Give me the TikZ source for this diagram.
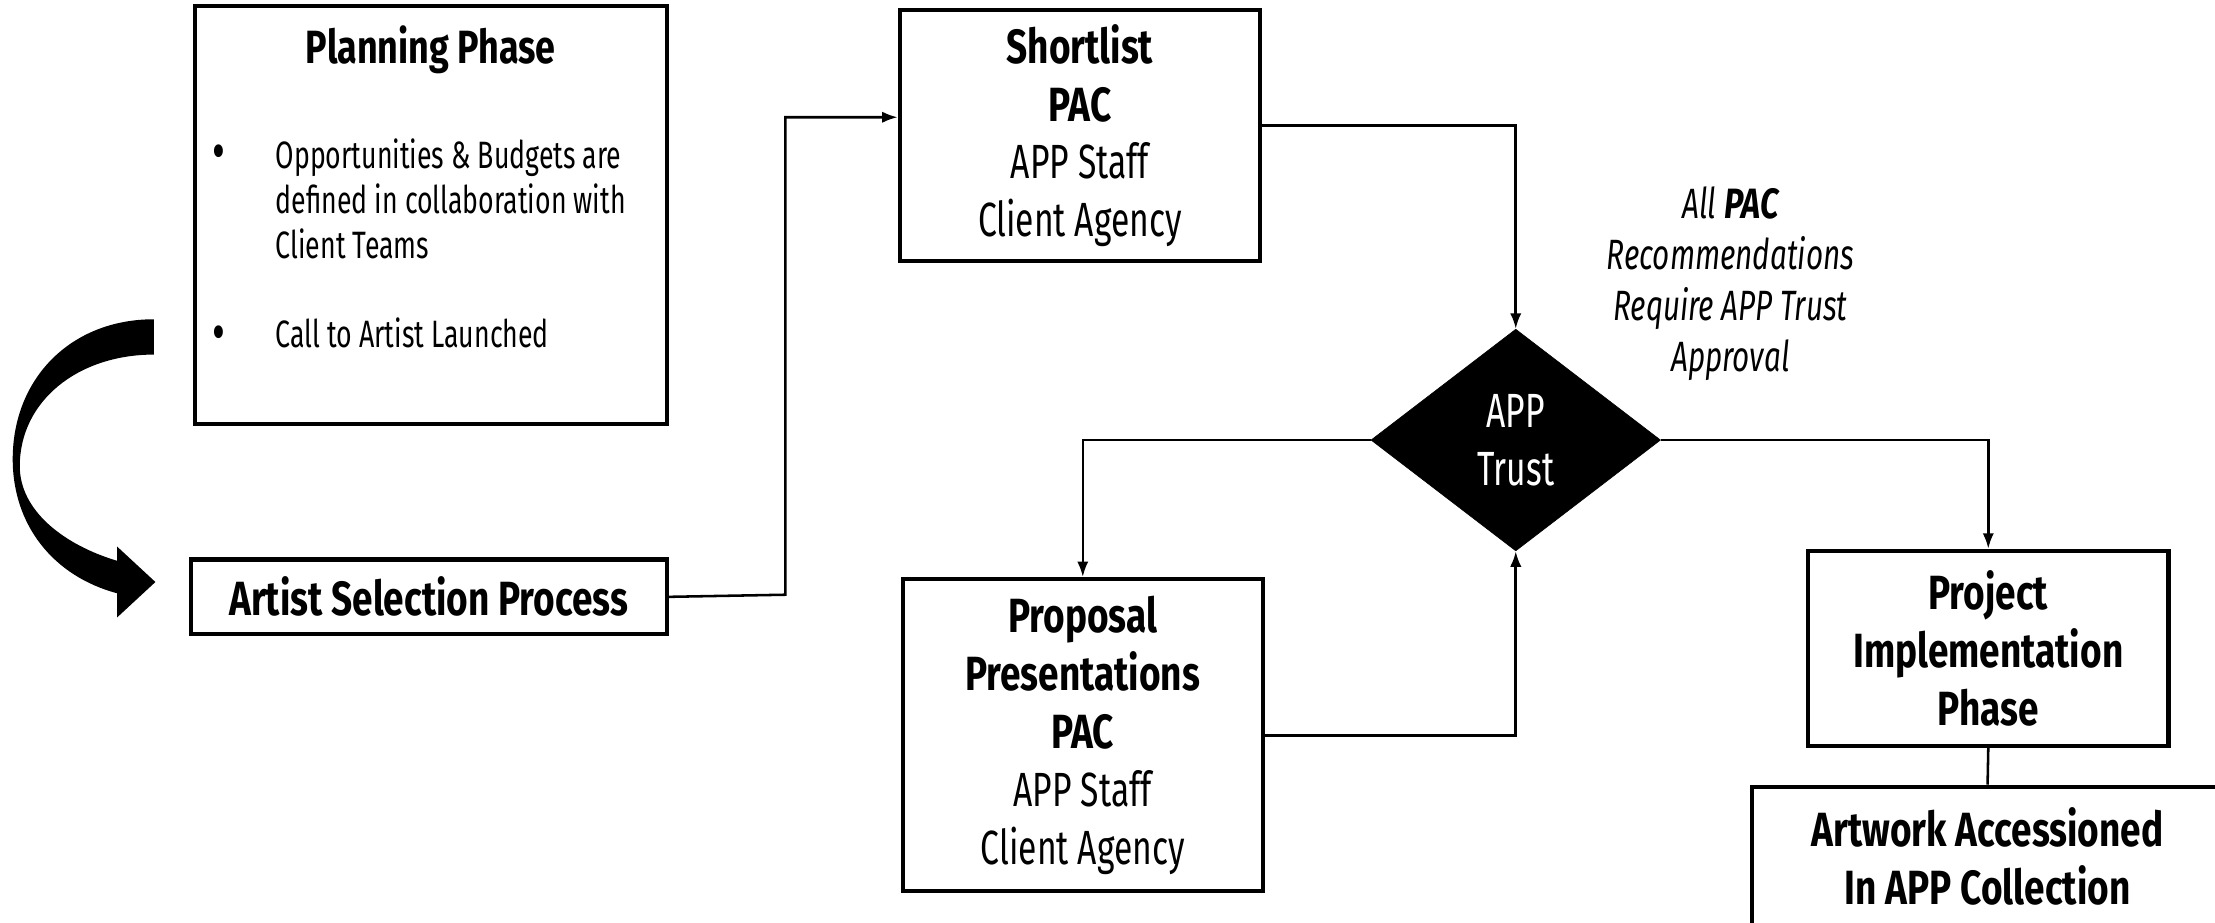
\documentclass[tikz,border=0pt]{standalone}
\usepackage{fontspec}
\setmainfont{Fira Sans}[FakeStretch=0.7, BoldFeatures={FakeStretch=0.77}, BoldItalicFeatures={FakeStretch=0.77}]
\usetikzlibrary{arrows.meta,shapes.geometric}
\newcommand{\myboxfont}{\fontsize{34}{41}\selectfont}
\newcommand{\mylistfont}{\fontsize{27}{32}\selectfont}
\newcommand{\mynotefont}{\fontsize{30}{36}\selectfont\itshape}
\tikzset{
  box/.style={draw, line width=3pt, fill=white, inner sep=0pt, align=center, font=\myboxfont},
  conn/.style={line width=1.8pt, -{Latex[length=11pt,width=8pt]}},
  plainline/.style={line width=1.8pt},
  decision/.style={diamond, fill=black, draw=black, inner sep=0pt, text=white, align=center, font=\myboxfont},
}
\begin{document}
\begin{tikzpicture}[x=1pt,y=-1pt]
\useasboundingbox (0,0) rectangle (1568,653);
\fill[white] (0,0) rectangle (1568,653);

% Planning box
\node[box, minimum width=334pt, minimum height=296pt] (plan) at (305,152) {};
\node[anchor=base, font=\fontsize{33}{40}\selectfont\bfseries] (plantitle) at (305,45) {Planning Phase};
\node[anchor=base, font=\fontsize{40}{40}\selectfont] (bul1) at (155,121) {•};
\node[anchor=north west, inner sep=0pt, align=left, font=\mylistfont] (item1) at (195,98)
  {Opportunities \& Budgets are\\defined in collaboration with\\Client Teams};
\node[anchor=base, font=\fontsize{40}{40}\selectfont] (bul2) at (155,249) {•};
\node[anchor=base west, inner sep=0pt, font=\mylistfont] (item2) at (195,246) {Call to Artist Launched};

% Artist selection
\node[box, minimum width=337pt, minimum height=53pt] (asp) at (303.5,422.5)
  {\bfseries Artist Selection Process};

% Curved arrow
\fill[black] (109,226) .. controls (50,226) and (9,268) .. (9,325)
  .. controls (9,372) and (38,408) .. (83,420) -- (83,437) -- (110,412) -- (83,387) -- (83,397)
  .. controls (46,386) and (14,362) .. (14,330)
  .. controls (14,284) and (55,251) .. (109,251) -- cycle;

% Shortlist
\node[box, minimum width=255pt, minimum height=178pt] (short) at (764.5,96)
  {\bfseries Shortlist\\\bfseries PAC\\APP Staff\\Client Agency};

% Decision
\node[decision, minimum width=205pt, minimum height=157pt] (trust) at (1073,311.5) {APP\\Trust};

% Note
\node[align=center, font=\mynotefont] (note) at (1225,201) {All \textbf{PAC}\\Recommendations\\Require APP Trust\\Approval};

% Proposal
\node[box, minimum width=255pt, minimum height=221pt] (prop) at (766.5,520.5)
  {\bfseries Proposal\\\bfseries Presentations\\\bfseries PAC\\APP Staff\\Client Agency};

% Project
\node[box, minimum width=255pt, minimum height=138pt] (proj) at (1407.5,459)
  {\bfseries Project\\\bfseries Implementation\\\bfseries Phase};

% Artwork
\node[box, minimum width=334pt, minimum height=99pt] (art) at (1407,606.5)
  {\bfseries Artwork Accessioned\\\bfseries In APP Collection};

% Connectors
\coordinate (j1) at (556,421);
\draw[conn] (asp.east) -- (j1) |- ([yshift=13pt]short.west);
\draw[conn] ([yshift=7pt]short.east) -| (trust.north);
\draw[conn] (trust.west) -| (prop.north);
\draw[conn] (prop.east) -| (trust.south);
\draw[conn] (trust.east) -| (proj.north);
\draw[plainline] (proj.south) -- (art.north);
\end{tikzpicture}
\end{document}
